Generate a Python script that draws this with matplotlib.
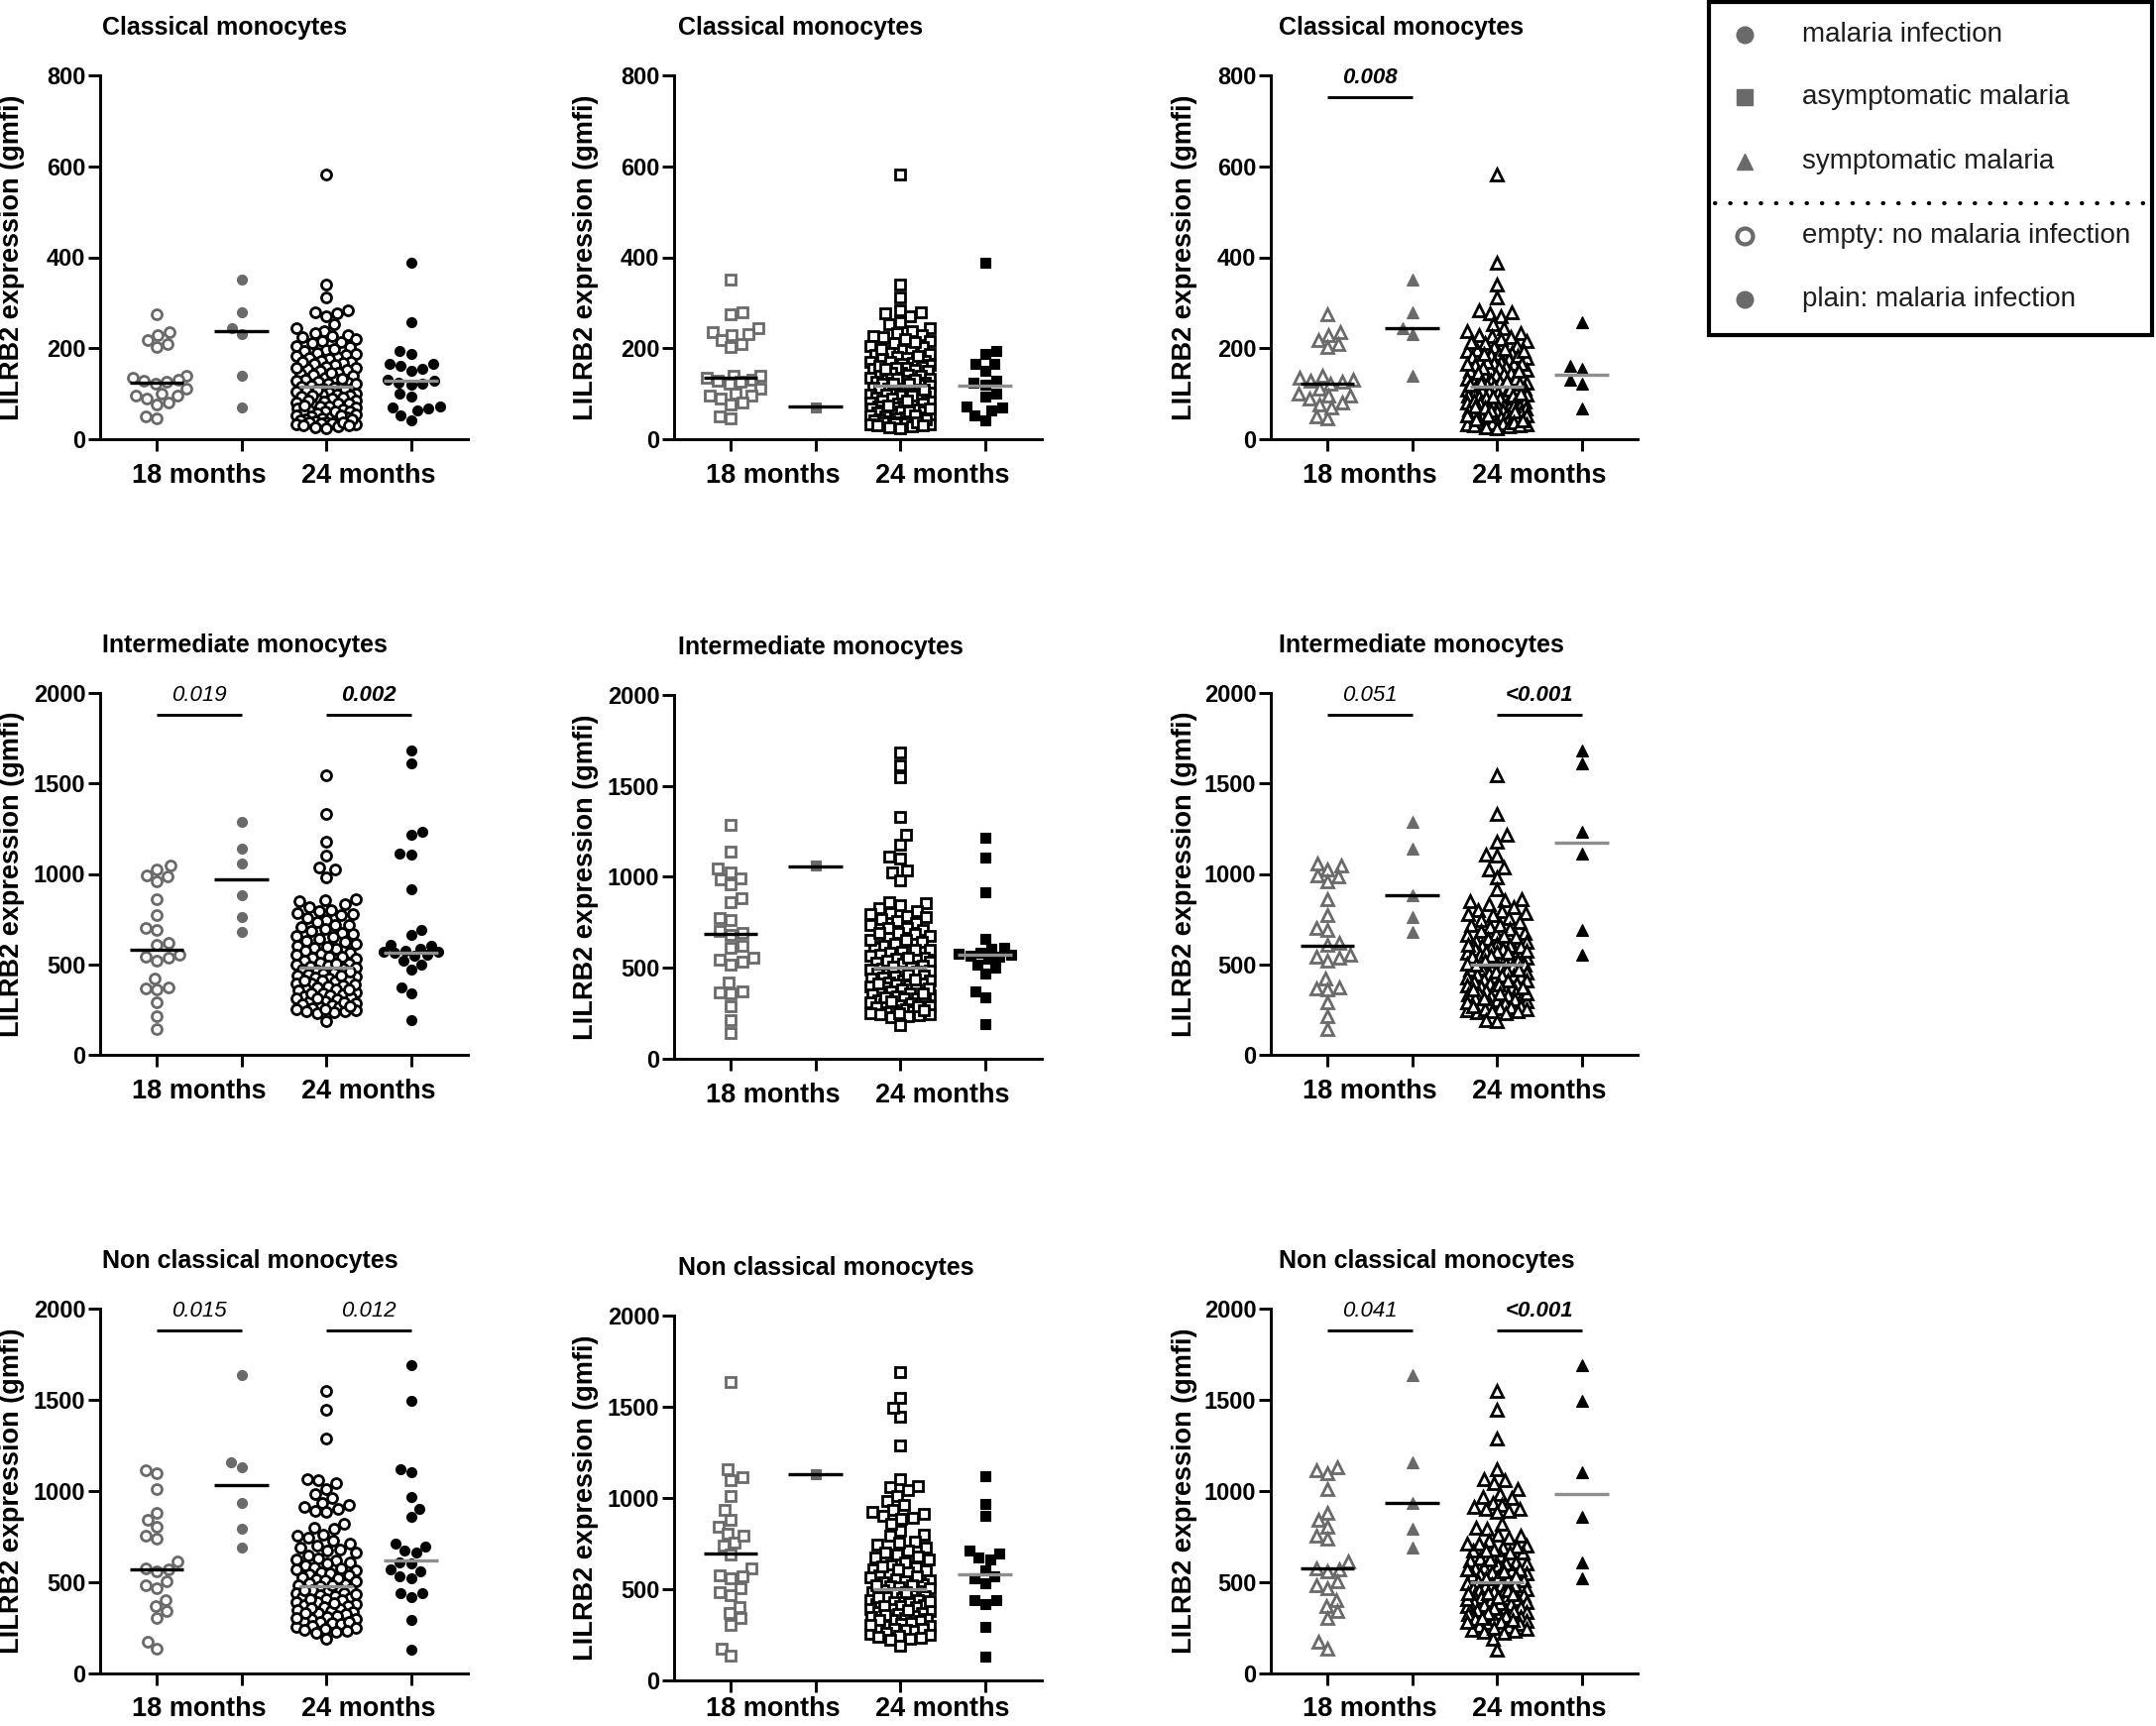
import numpy as np
import matplotlib
matplotlib.use('Agg')
import matplotlib.pyplot as plt
from matplotlib.patches import Rectangle
from matplotlib.transforms import blended_transform_factory

plt.rcParams['font.family'] = ['Liberation Sans', 'DejaVu Sans']

# ---------------- data ----------------
titles = ['Classical monocytes', 'Intermediate monocytes', 'Non classical monocytes']
group_labels = ['18 months', '24 months']
y_max = [800, 2000, 2000]
y_ticks = [[0, 200, 400, 600, 800], [0, 500, 1000, 1500, 2000], [0, 500, 1000, 1500, 2000]]

# Classical monocytes
r1_open18 = [275, 235, 228, 217, 210, 202, 140, 135, 131, 128, 126, 122, 112, 100, 97, 95, 90, 80, 77, 50, 46]
r1_asym18 = [70]
r1_sym18 = [350, 280, 245, 230, 140]
r1_open24 = [582, 341, 312, 284, 279, 276, 271, 252, 244, 237, 233, 229, 226, 224, 220, 216, 212, 205, 202,
             197, 195, 190, 188, 186, 182, 179, 177, 173, 171, 168, 165, 163, 160, 157, 155, 152, 150, 147,
             144, 141, 139, 136, 133, 131, 128, 127, 124, 121, 119, 118, 116, 114, 112, 111, 108, 107, 105,
             103, 101, 99, 98, 95, 93, 92, 89, 87, 85, 83, 81, 79, 78, 75, 73, 72, 69, 67, 66, 63, 61, 60,
             58, 56, 54, 53, 51, 49, 47, 46, 44, 42, 41, 39, 38, 36, 35, 34, 33, 32, 30, 28, 25,
             214, 198, 184, 170, 158, 146, 134, 122, 109, 97, 86, 74, 62, 52, 43, 37, 31, 27]
r1_asym24 = [388, 195, 188, 166, 165, 150, 128, 125, 120, 100, 93, 71, 70, 64, 53, 42]
r1_sym24 = [258, 162, 155, 130, 122, 68]

# Intermediate monocytes
r2_open18 = [1046, 1027, 992, 985, 958, 859, 775, 703, 690, 620, 608, 555, 545, 535, 520, 422, 372, 365,
             360, 288, 215, 142]
r2_asym18 = [1060]
r2_sym18 = [1287, 1137, 881, 763, 681]
r2_open24 = [1545, 1331, 1178, 1102, 1033, 1027, 982, 862, 856, 847, 831, 814, 802, 794, 785, 771, 757, 746,
             733, 719, 709, 694, 685, 674, 666, 653, 642, 631, 623, 611, 602, 591, 585, 574, 567, 558, 552,
             544, 535, 529, 521, 511, 506, 497, 493, 487, 482, 477, 469, 466, 457, 452, 445, 441, 432, 429,
             420, 416, 409, 404, 397, 392, 384, 379, 371, 367, 359, 355, 347, 342, 334, 331, 323, 319, 311,
             306, 299, 295, 287, 282, 274, 269, 261, 257, 251, 246, 239, 235, 229, 252, 187,
             780, 720, 655, 598, 540, 505, 462, 437, 412, 388, 362, 338, 314, 291, 266, 243]
r2_asym24 = [1214, 1108, 914, 662, 610, 605, 585, 575, 570, 568, 562, 548, 520, 500, 471, 370, 338, 192]
r2_sym24 = [1684, 1611, 1232, 1110, 693, 556]

# Non classical monocytes
r3_open18 = [1115, 1097, 1012, 881, 840, 803, 753, 740, 613, 575, 571, 562, 504, 481, 468, 404, 368, 341,
             305, 172, 136]
r3_asym18 = [1130]
r3_sym18 = [1634, 1157, 934, 794, 691]
r3_open24 = [1548, 1446, 1286, 1067, 1061, 1041, 1013, 986, 961, 933, 923, 913, 903, 894, 886, 821, 801, 791,
             762, 744, 726, 711, 701, 689, 673, 661, 646, 633, 621, 611, 601, 593, 582, 576, 567, 557, 551,
             541, 536, 526, 518, 511, 503, 494, 489, 481, 476, 468, 463, 455, 451, 442, 438, 430, 426, 418,
             413, 405, 401, 393, 389, 380, 376, 368, 363, 354, 349, 341, 337, 329, 324, 315, 310, 301, 297,
             289, 284, 275, 271, 261, 255, 245, 239, 227, 221, 191,
             755, 680, 625, 570, 522, 484, 458, 434, 409, 384, 358, 332, 306, 280, 250, 232]
r3_asym24 = [1121, 966, 903, 713, 698, 673, 662, 605, 568, 558, 530, 441, 438, 419, 296, 132]
r3_sym24 = [1691, 1496, 1102, 857, 607, 522]

# medians: [18m no inf, 18m inf, 24m no inf, 24m inf] for (any, asym, sym) panels
r1_medians = [[125, 238, 115, 128], [135, 72, 118, 118], [123, 245, 115, 142]]
r2_medians = [[580, 970, 480, 567], [684, 1058, 499, 571], [602, 880, 498, 1175]]
r3_medians = [[568, 1035, 477, 618], [694, 1130, 499, 584], [577, 936, 499, 985]]

# p-values: (row, col) -> [(group a, group b, text, bold)]
p_values = {
    (0, 2): [(0, 1, '0.008', True)],
    (1, 0): [(0, 1, '0.019', False), (2, 3, '0.002', True)],
    (1, 2): [(0, 1, '0.051', False), (2, 3, '<0.001', True)],
    (2, 0): [(0, 1, '0.015', False), (2, 3, '0.012', False)],
    (2, 2): [(0, 1, '0.041', False), (2, 3, '<0.001', True)],
}

legend_labels = ['malaria infection', 'asymptomatic malaria', 'symptomatic malaria',
                 'empty: no malaria infection', 'plain: malaria infection']

rows_data = [
    (r1_open18, r1_asym18, r1_sym18, r1_open24, r1_asym24, r1_sym24, r1_medians),
    (r2_open18, r2_asym18, r2_sym18, r2_open24, r2_asym24, r2_sym24, r2_medians),
    (r3_open18, r3_asym18, r3_sym18, r3_open24, r3_asym24, r3_sym24, r3_medians),
]

# ---------------- layout (pixels) ----------------
W, H = 2175, 1741
fig = plt.figure(figsize=(W / 100, H / 100), dpi=100)

col_left = [101, 680, 1282]
title_x = [103, 684, 1290]
ylabel_x = [12, 591, 1195]
cat_px = 85.5
edge_px = 57.0
ax_w = 2 * edge_px + 3 * cat_px
row_tb = [
    [(76, 443), (76, 443), (76, 443)],
    [(699, 1064), (701, 1068), (699, 1064)],
    [(1320, 1688), (1327, 1695), (1320, 1688)],
]
x_lo = -edge_px / cat_px
x_hi = x_lo + ax_w / cat_px

GRAY = '#6a6a6a'
MED_GRAY = '#8e8e8e'
markers = ['o', 's', '^']
msizes = [7.2, 6.9, 8.0]


def swarm(vals, ypu, xpu, d=11.5, maxhalf=30.0):
    vals = np.asarray(vals, float)
    ypix = vals * ypu
    order = np.argsort(vals)
    offs = np.zeros(len(vals))
    cands = np.arange(-maxhalf, maxhalf + 0.01, 0.5)
    px, py = [], []
    flip = 1
    for i in order:
        c = 0.0
        if px:
            ax_ = np.array(px)
            ay_ = np.array(py)
            dy = ypix[i] - ay_
            near = np.abs(dy) < d
            if near.any():
                dx = cands[:, None] - ax_[None, near]
                dist = np.sqrt(dx ** 2 + dy[near][None, :] ** 2).min(axis=1)
                ok = dist >= d
                if ok.any():
                    cc = cands[ok]
                    key = np.abs(cc) + 0.01 * flip * np.sign(cc)
                    c = cc[np.argmin(key)]
                    flip = -flip
                else:
                    c = cands[np.argmax(dist)]
        offs[i] = c
        px.append(c)
        py.append(ypix[i])
    return offs / xpu


for r in range(3):
    open18, asym18, sym18, open24, asym24, sym24, meds = rows_data[r]
    panel_groups = [
        (open18, asym18 + sym18, open24, asym24 + sym24),
        (open18 + sym18, asym18, open24 + sym24, asym24),
        (open18 + asym18, sym18, open24 + asym24, sym24),
    ]
    for c in range(3):
        top, bot = row_tb[r][c]
        left = col_left[c]
        ax = fig.add_axes([left / W, 1 - bot / H, ax_w / W, (bot - top) / H])
        ax.set_xlim(x_lo, x_hi)
        ax.set_ylim(0, y_max[r])
        ypu = (bot - top) / y_max[r]
        for s in ['top', 'right']:
            ax.spines[s].set_visible(False)
        for s in ['left', 'bottom']:
            ax.spines[s].set_linewidth(2.1)
        ax.set_xticks([0, 1, 2, 3])
        ax.set_xticklabels([])
        ax.set_yticks(y_ticks[r])
        ax.set_yticklabels([str(t) for t in y_ticks[r]], fontsize=17, fontweight='bold')
        ax.tick_params(axis='both', length=8.5, width=2.1, direction='out', pad=2)
        ax.patch.set_alpha(0)

        for g in range(4):
            vals = panel_groups[c][g]
            xoff = swarm(vals, ypu, cat_px)
            color = GRAY if g < 2 else 'black'
            empty = g in (0, 2)
            ax.plot(g + xoff, vals, ls='none', marker=markers[c], ms=msizes[c],
                    mfc='white' if empty else color, mec=color, mew=2.0 if empty else 0.8,
                    clip_on=False, zorder=3)
            lc = 'black' if g < 2 else MED_GRAY
            ax.plot([g - 0.32, g + 0.32], [meds[c][g]] * 2, color=lc, lw=2.4,
                    solid_capstyle='butt', zorder=5)

        # keep the x-category labels inside the canvas
        lab_off_px = min(37.0, (H - 17) - bot)
        trans = blended_transform_factory(ax.transData, ax.transAxes)
        for k, lab in enumerate(group_labels):
            ax.annotate(lab, xy=(0.5 + 2 * k, 0), xycoords=trans,
                        xytext=(0, -lab_off_px * 0.72),
                        textcoords='offset points', ha='center', va='center',
                        fontsize=19.5, fontweight='bold')

        if (r, c) in p_values:
            for (a, b, txt, bold) in p_values[(r, c)]:
                ax.plot([a, b], [0.94 * y_max[r]] * 2, color='black', lw=2.1,
                        solid_capstyle='butt', clip_on=False)
                ax.text((a + b) / 2, 0.993 * y_max[r], txt, ha='center', va='center',
                        fontsize=16, fontstyle='italic',
                        fontweight='bold' if bold else 'normal', clip_on=False)

        fig.text(title_x[c] / W, 1 - (top - 48) / H, titles[r], ha='left', va='center',
                 fontsize=18, fontweight='bold')
        fig.text(ylabel_x[c] / W, 1 - ((top + bot) / 2) / H, 'LILRB2 expression (gmfi)',
                 rotation=90, ha='center', va='center', fontsize=19.5, fontweight='bold')

# ---------------- legend box ----------------
lax = fig.add_axes([0, 0, 1, 1])
lax.set_xlim(0, W)
lax.set_ylim(H, 0)
lax.axis('off')
lax.patch.set_alpha(0)
lax.add_patch(Rectangle((1724, 2), 447, 336, fill=False, lw=3.0, ec='black'))
leg_y = [35, 98, 163, 238, 302]
leg_m = [('o', GRAY, GRAY, 12, 1), ('s', GRAY, GRAY, 11.5, 1), ('^', GRAY, GRAY, 12, 1),
         ('o', 'white', GRAY, 11.5, 3.0), ('o', GRAY, GRAY, 12, 1)]
for yy, (m, fc, ec, ms, mw), lab in zip(leg_y, leg_m, legend_labels):
    lax.plot([1760], [yy], marker=m, ms=ms, mfc=fc, mec=ec, mew=mw, ls='none')
    lax.text(1818, yy, lab, ha='left', va='center', fontsize=20, color='#1e1e1e')
lax.plot([1730, 2166], [205, 205], color='black', lw=3.0, ls=(0, (0.1, 3.6)),
         dash_capstyle='round')

fig.savefig('out.png', dpi=100)
